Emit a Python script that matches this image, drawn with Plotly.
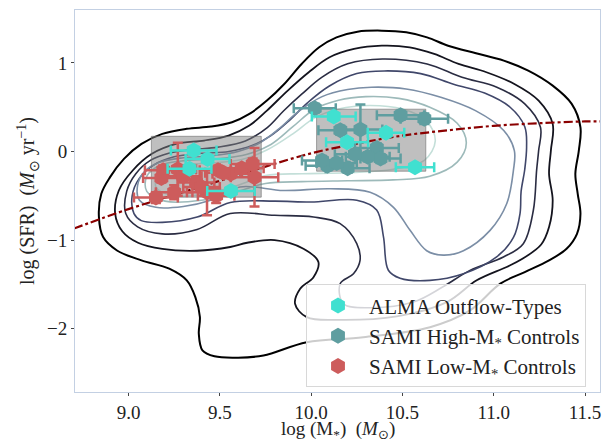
import plotly.graph_objects as go

# ---------------- data ----------------
# ALMA outflow-type galaxies
alma_x = [9.357, 9.433, 9.334, 9.561, 10.124, 10.197, 10.410, 10.569]
alma_y = [0.011, -0.083, -0.195, -0.447, 0.395, 0.105, 0.211, -0.177]
alma_xerr = [0.125, 0.12, 0.12, 0.13, 0.12, 0.115, 0.10, 0.105]
alma_yerr = [0.04, 0.04, 0.04, 0.04, 0.04, 0.04, 0.04, 0.04]

# SAMI high-mass controls
high_x = [10.02, 10.49, 10.62, 10.16, 10.27, 10.36, 10.38, 10.09, 10.20, 10.06, 10.31, 10.24, 10.14]
high_y = [0.49, 0.41, 0.37, 0.24, 0.25, 0.04, -0.08, -0.16, -0.19, -0.10, -0.06, -0.03, -0.13]
high_xerr = [0.115, 0.13, 0.13, 0.12, 0.12, 0.12, 0.11, 0.12, 0.12, 0.11, 0.12, 0.11, 0.11]
high_yerr = [0.05, 0.05, 0.06, 0.05, 0.28, 0.05, 0.05, 0.05, 0.05, 0.05, 0.05, 0.05, 0.05]

# SAMI low-mass controls
low_x = [9.15, 9.19, 9.27, 9.25, 9.37, 9.43, 9.48, 9.49, 9.56, 9.62, 9.68, 9.69, 9.30, 9.18, 9.52, 9.40]
low_y = [-0.52, -0.21, -0.20, -0.46, -0.35, -0.46, -0.50, -0.21, -0.25, -0.19, -0.14, -0.29, -0.28, -0.30, -0.24, -0.40]
low_xerr = [0.12, 0.10, 0.10, 0.10, 0.10, 0.11, 0.10, 0.10, 0.10, 0.12, 0.12, 0.13, 0.10, 0.10, 0.10, 0.10]
low_yerr = [0.06, 0.05, 0.30, 0.08, 0.06, 0.26, 0.08, 0.05, 0.05, 0.05, 0.06, 0.33, 0.06, 0.05, 0.05, 0.05]

# star-forming main sequence
ms_x = [8.70, 9.0, 9.25, 9.5, 9.75, 10.0, 10.25, 10.5, 10.75, 11.0, 11.25, 11.5, 11.59]
ms_y = [-0.87, -0.65, -0.49, -0.33, -0.17, -0.02, 0.09, 0.18, 0.24, 0.29, 0.32, 0.34, 0.34]

# selection boxes: (x0, x1, y0, y1)
box_low = [9.125, 9.727, -0.515, 0.172]
box_high = [10.030, 10.628, -0.222, 0.478]

# density contours of the parent sample (traced), outermost first
c1_x = [8.838, 8.851, 8.899, 8.975, 9.071, 9.185, 9.319, 9.452, 9.567, 9.662, 9.758, 9.853, 9.948, 10.044, 10.139, 10.254, 10.387, 10.521, 10.635, 10.750, 10.903, 11.055, 11.189, 11.323, 11.427, 11.475, 11.466, 11.447, 11.460, 11.475, 11.456, 11.399, 11.303, 11.170, 11.036, 10.870, 10.651, 10.286, 9.976, 9.739, 9.600, 9.471, 9.405, 9.385, 9.391, 9.366, 9.319, 9.223, 9.071, 8.937, 8.861, 8.838]
c1_y = [-0.741, -0.477, -0.289, -0.083, 0.086, 0.199, 0.256, 0.282, 0.331, 0.425, 0.575, 0.763, 0.989, 1.177, 1.289, 1.353, 1.365, 1.346, 1.289, 1.195, 1.109, 1.026, 0.914, 0.744, 0.538, 0.274, 0.011, -0.252, -0.477, -0.703, -0.929, -1.098, -1.229, -1.361, -1.492, -1.794, -1.983, -2.096, -2.153, -2.303, -2.327, -2.312, -2.244, -2.056, -1.868, -1.643, -1.455, -1.323, -1.229, -1.117, -0.966, -0.741]

c2_x = [8.927, 8.947, 9.023, 9.128, 9.261, 9.414, 9.548, 9.662, 9.758, 9.872, 9.987, 10.101, 10.235, 10.387, 10.540, 10.674, 10.807, 10.960, 11.113, 11.246, 11.323, 11.313, 11.303, 11.323, 11.303, 11.26, 11.15, 11.071, 10.907, 10.743, 10.469, 10.159, 9.976, 9.912, 9.940, 10.013, 10.040, 9.958, 9.80, 9.65, 9.557, 9.376, 9.185, 9.052, 8.966, 8.927]
c2_y = [-0.703, -0.440, -0.214, -0.026, 0.086, 0.124, 0.180, 0.293, 0.462, 0.688, 0.895, 1.064, 1.158, 1.195, 1.177, 1.102, 0.989, 0.895, 0.763, 0.575, 0.312, 0.011, -0.252, -0.553, -0.853, -1.05, -1.22, -1.303, -1.454, -1.70, -1.86, -1.90, -1.870, -1.719, -1.549, -1.418, -1.248, -1.097, -1.0, -1.03, -1.078, -1.12, -1.10, -1.03, -0.90, -0.703]

c3_x = [8.985, 8.99, 9.04, 9.12, 9.22, 9.34, 9.49, 9.64, 9.76, 9.85, 9.95, 10.06, 10.20, 10.39, 10.635, 10.826, 11.017, 11.17, 11.256, 11.246, 11.235, 11.217, 11.162, 11.053, 10.870, 10.72, 10.56, 10.323, 10.177, 10.159, 10.232, 10.268, 10.250, 10.159, 10.013, 9.80, 9.557, 9.376, 9.185, 9.05, 8.985]
c3_y = [-0.70, -0.45, -0.25, -0.10, -0.02, 0.02, 0.05, 0.12, 0.27, 0.46, 0.65, 0.84, 0.99, 1.045, 0.989, 0.838, 0.726, 0.538, 0.274, 0.011, -0.21, -0.663, -1.040, -1.191, -1.342, -1.53, -1.70, -1.764, -1.719, -1.493, -1.380, -1.229, -1.040, -0.814, -0.739, -0.72, -0.700, -0.88, -0.93, -0.85, -0.70]

c4_x = [9.03, 9.02, 9.06, 9.14, 9.25, 9.40, 9.55, 9.68, 9.78, 9.88, 9.98, 10.10, 10.25, 10.40, 10.60, 10.78, 10.95, 11.09, 11.17, 11.18, 11.17, 11.15, 11.144, 11.108, 11.016, 10.834, 10.651, 10.487, 10.423, 10.396, 10.359, 10.25, 10.0, 9.80, 9.557, 9.376, 9.185, 9.07, 9.03]
c4_y = [-0.70, -0.50, -0.30, -0.15, -0.06, -0.02, 0.0, 0.07, 0.18, 0.35, 0.55, 0.74, 0.88, 0.91, 0.88, 0.76, 0.66, 0.50, 0.28, 0.05, -0.20, -0.45, -0.70, -0.97, -1.19, -1.38, -1.455, -1.43, -1.34, -0.96, -0.66, -0.55, -0.57, -0.56, -0.575, -0.74, -0.80, -0.78, -0.70]

c5_x = [9.06, 9.05, 9.09, 9.17, 9.30, 9.45, 9.60, 9.72, 9.82, 9.93, 10.06, 10.20, 10.33, 10.52, 10.71, 10.90, 11.055, 11.113, 11.108, 11.071, 10.980, 10.834, 10.724, 10.633, 10.542, 10.451, 10.323, 10.104, 9.849, 9.611, 9.45, 9.30, 9.15, 9.06]
c5_y = [-0.55, -0.38, -0.22, -0.12, -0.07, -0.05, 0.0, 0.10, 0.25, 0.45, 0.62, 0.70, 0.726, 0.707, 0.613, 0.462, 0.237, 0.011, -0.21, -0.59, -0.89, -1.12, -1.17, -1.12, -0.89, -0.63, -0.46, -0.42, -0.44, -0.40, -0.55, -0.62, -0.63, -0.55]

c6_x = [9.10, 9.10, 9.18, 9.32, 9.50, 9.65, 9.78, 9.90, 10.02, 10.15, 10.30, 10.48, 10.65, 10.80, 10.85, 10.80, 10.65, 10.45, 10.20, 9.95, 9.75, 9.60, 9.40, 9.20, 9.10]
c6_y = [-0.45, -0.28, -0.15, -0.10, -0.08, -0.03, 0.08, 0.28, 0.48, 0.58, 0.62, 0.60, 0.50, 0.32, 0.10, -0.12, -0.28, -0.32, -0.33, -0.34, -0.36, -0.45, -0.55, -0.56, -0.45]

c7_x = [9.15, 9.17, 9.27, 9.45, 9.62, 9.76, 9.90, 10.02, 10.15, 10.32, 10.50, 10.63, 10.68, 10.62, 10.45, 10.20, 9.95, 9.75, 9.60, 9.42, 9.25, 9.15]
c7_y = [-0.40, -0.25, -0.16, -0.13, -0.09, 0.02, 0.20, 0.38, 0.48, 0.52, 0.48, 0.35, 0.12, -0.10, -0.20, -0.24, -0.25, -0.27, -0.38, -0.48, -0.50, -0.40]

contour_xs = [c1_x, c2_x, c3_x, c4_x, c5_x, c6_x, c7_x]
contour_ys = [c1_y, c2_y, c3_y, c4_y, c5_y, c6_y, c7_y]
contour_colors = ['#000000', '#14141e', '#2a2c42', '#40476a', '#7b8ea6', '#9dbaba', '#c4dfd9']
contour_widths = [2.0, 1.8, 1.6, 1.6, 1.6, 1.6, 1.6]

x_ticks = [9.0, 9.5, 10.0, 10.5, 11.0, 11.5]
x_ticktext = ['9.0', '9.5', '10.0', '10.5', '11.0', '11.5']
y_ticks = [-2, -1, 0, 1]
y_ticktext = ['\u22122', '\u22121', '0', '1']

x_title = 'log (M<sub>*</sub>)  (<i>M</i><sub>\u2299</sub>)'
y_title = 'log (SFR)  (<i>M</i><sub>\u2299</sub> yr<sup>\u22121</sup>)'

FONT = 'Liberation Serif'
ALMA_C = '#40E0D0'
HIGH_C = '#5F9EA0'
LOW_C = '#CD5C5C'

fig = go.Figure()

for cx, cy, col, lw in zip(contour_xs, contour_ys, contour_colors, contour_widths):
    fig.add_trace(go.Scatter(x=cx, y=cy, mode='lines', line=dict(color=col, width=lw, shape='spline', smoothing=1.0),
                             showlegend=False, hoverinfo='skip'))

for b in (box_low, box_high):
    fig.add_trace(go.Scatter(x=[b[0], b[1], b[1], b[0], b[0]], y=[b[2], b[2], b[3], b[3], b[2]],
                             mode='lines', fill='toself', fillcolor='rgba(128,128,128,0.5)',
                             line=dict(color='rgba(110,110,110,0.6)', width=1), showlegend=False, hoverinfo='skip'))

fig.add_trace(go.Scatter(x=ms_x, y=ms_y, mode='lines', line=dict(color='#8B0000', width=2.2, dash='dashdot', shape='spline'),
                         showlegend=False, hoverinfo='skip'))

def pts(x, y, xe, ye, col, name, rank):
    return go.Scatter(x=x, y=y, mode='markers', name=name, legendrank=rank,
                      marker=dict(symbol='hexagon', size=16, color=col, line=dict(width=0)),
                      error_x=dict(type='data', array=xe, color=col, thickness=2.5, width=5),
                      error_y=dict(type='data', array=ye, color=col, thickness=2.5, width=5))

fig.add_trace(pts(low_x, low_y, low_xerr, low_yerr, LOW_C, 'SAMI Low-M<sub>*</sub> Controls', 3))
fig.add_trace(pts(high_x, high_y, high_xerr, high_yerr, HIGH_C, 'SAMI High-M<sub>*</sub> Controls', 2))
fig.add_trace(pts(alma_x, alma_y, alma_xerr, alma_yerr, ALMA_C, 'ALMA Outflow-Types', 1))

axis_common = dict(showgrid=False, zeroline=False, showline=True, mirror=True, linecolor='#c3d0e3', linewidth=1,
                   ticks='outside', ticklen=3, tickcolor='#444', automargin=False,
                   tickfont=dict(family=FONT, size=19, color='#222'))

fig.update_layout(
    width=603, height=439,
    margin=dict(l=75, r=3, t=10, b=47),
    paper_bgcolor='white', plot_bgcolor='white',
    font=dict(family=FONT, color='#222'),
    xaxis=dict(range=[8.707, 11.582], tickvals=x_ticks, ticktext=x_ticktext, **axis_common),
    yaxis=dict(range=[-2.715, 1.598], tickvals=y_ticks, ticktext=y_ticktext,
               title=dict(text=y_title, font=dict(family=FONT, size=20), standoff=6),
               **axis_common),
    legend=dict(x=0.44, y=0.282, xanchor='left', yanchor='top', bgcolor='rgba(255,255,255,0.8)',
                bordercolor='#d8d8d8', borderwidth=1, font=dict(family=FONT, size=21, color='#222'),
                itemwidth=52, tracegroupgap=0),
    showlegend=True,
)

fig.add_annotation(text=x_title, xref='paper', yref='paper', x=0.5, y=0, xanchor='center', yanchor='middle',
                   yshift=-38, showarrow=False, font=dict(family=FONT, size=19, color='#222'))

fig.write_html('out.html', config={'displayModeBar': False},
               post_script="document.body.style.margin='0';document.body.style.padding='0';")
